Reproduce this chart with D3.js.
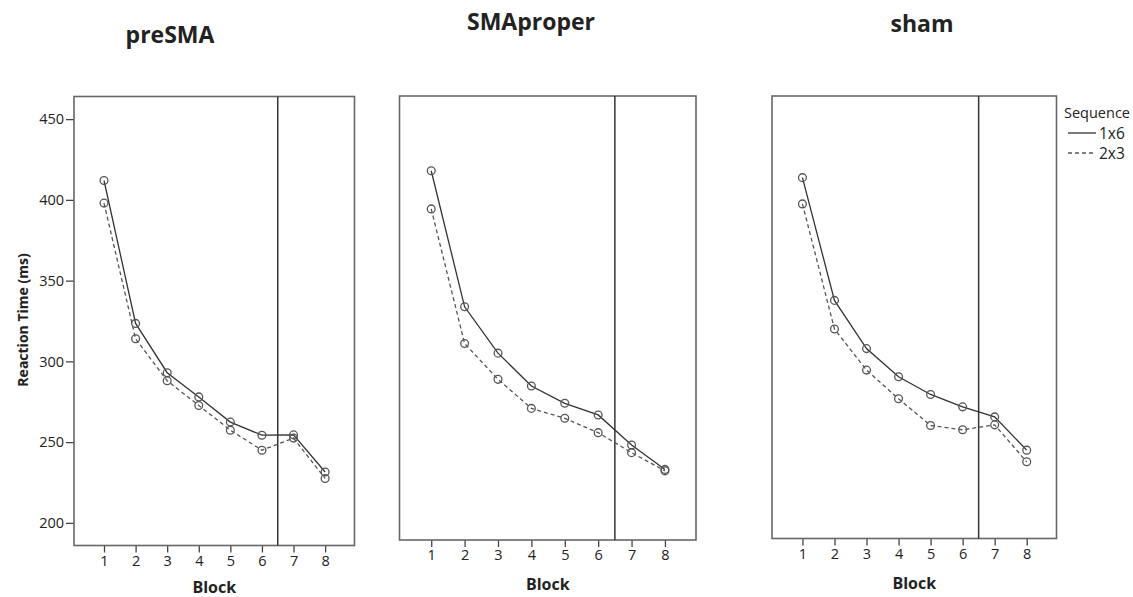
<!DOCTYPE html>
<html>
<head>
<meta charset="utf-8">
<script src="https://cdn.jsdelivr.net/npm/d3@7"></script>
<style>
  body { margin: 0; background: #fff; }
  text { font-family: "Open Sans", sans-serif; fill: #222; }
</style>
</head>
<body>
<div id="chart"></div>
<script>
// Data
const blocks = [1, 2, 3, 4, 5, 6, 7, 8];
const panelNames = ['preSMA', 'SMAproper', 'sham'];
const seriesNames = ['1x6', '2x3'];
const yTicks = [200, 250, 300, 350, 400, 450];

const presma1x6 = [412, 323.5, 293, 278, 262.4, 254.3, 254.5, 231.5];
const presma2x3 = [398, 314, 288, 272.7, 257.4, 245, 252.5, 227.5];
const smaproper1x6 = [417.2, 332, 303, 282.4, 271.6, 264.3, 245.5, 230.2];
const smaproper2x3 = [393.3, 309, 286.6, 268.4, 262.2, 253.2, 240.7, 229.3];
const sham1x6 = [412.7, 335.6, 305.3, 287.6, 276.5, 268.7, 262.4, 241.5];
const sham2x3 = [396.2, 317.6, 291.8, 273.8, 257, 254.3, 257.4, 234.2];

const panelSeries = [
    [presma1x6, presma2x3],
    [smaproper1x6, smaproper2x3],
    [sham1x6, sham2x3]
];

const width = 1133;
const height = 597;

// frame of each small panel, they are slightly different in the source
const layout = [
    { left: 74, top: 96.5, right: 354.5, bottom: 545.5, titleX: 170, titleY: 43 },
    { left: 399.5, top: 96, right: 696, bottom: 540, titleX: 531, titleY: 30 },
    { left: 772, top: 96, right: 1056.5, bottom: 538.5, titleX: 922, titleY: 32 }
];

const svg = d3.select('#chart').append('svg')
    .attr('width', width)
    .attr('height', height);

const dashes = ['none', '4,3'];

panelNames.forEach(function(name, i) {
    const L = layout[i];
    const x = d3.scaleLinear().domain([0.05, 8.93]).range([L.left, L.right]);
    const y = d3.scaleLinear().domain([186, 464]).range([L.bottom, L.top]);

    const g = svg.append('g');

    // title
    g.append('text')
        .attr('x', L.titleX)
        .attr('y', L.titleY)
        .attr('text-anchor', 'middle')
        .style('font-size', '23px')
        .style('font-weight', 'bold')
        .text(name);

    // x axis
    const xAxis = g.append('g')
        .attr('transform', `translate(0,${L.bottom})`)
        .call(d3.axisBottom(x).tickValues(blocks).tickFormat(d3.format('d')).tickSize(7).tickPadding(3).tickSizeOuter(0));
    xAxis.select('.domain').remove();
    xAxis.selectAll('line').attr('stroke', '#444').attr('stroke-width', 1.3);
    xAxis.selectAll('text').style('font-size', '14.5px').style('font-family', '"Open Sans", sans-serif').attr('fill', '#222');

    g.append('text')
        .attr('x', (L.left + L.right) / 2)
        .attr('y', Math.min(L.bottom + 50, 593))
        .attr('text-anchor', 'middle')
        .style('font-size', '16px')
        .style('font-weight', 'bold')
        .text('Block');

    // y axis only on the first panel
    if (i === 0) {
        const yAxis = g.append('g')
            .attr('transform', `translate(${L.left},0)`)
            .call(d3.axisLeft(y).tickValues(yTicks).tickSize(8).tickPadding(2).tickSizeOuter(0));
        yAxis.select('.domain').remove();
        yAxis.selectAll('line').attr('stroke', '#444').attr('stroke-width', 1.3);
        yAxis.selectAll('text').style('font-size', '14.5px').style('font-family', '"Open Sans", sans-serif').attr('fill', '#222');

        g.append('text')
            .attr('transform', 'translate(28,320) rotate(-90)')
            .attr('text-anchor', 'middle')
            .style('font-size', '14px')
            .style('font-weight', 'bold')
            .text('Reaction Time (ms)');
    }

    // frame
    g.append('rect')
        .attr('x', L.left)
        .attr('y', L.top)
        .attr('width', L.right - L.left)
        .attr('height', L.bottom - L.top)
        .attr('fill', 'none')
        .attr('stroke', '#666')
        .attr('stroke-width', 1.6);

    // reference line between block 6 and 7
    g.append('line')
        .attr('x1', x(6.5)).attr('x2', x(6.5))
        .attr('y1', L.top).attr('y2', L.bottom)
        .attr('stroke', '#333')
        .attr('stroke-width', 1.5);

    const line = d3.line()
        .x((d, j) => x(blocks[j]))
        .y(d => y(d));

    panelSeries[i].forEach(function(values, s) {
        g.append('path')
            .datum(values)
            .attr('d', line)
            .attr('fill', 'none')
            .attr('stroke', s === 0 ? '#333' : '#555')
            .attr('stroke-width', 1.3)
            .attr('stroke-dasharray', dashes[s]);

        g.selectAll('.pt' + s)
            .data(values)
            .enter().append('circle')
            .attr('class', 'pt' + s)
            .attr('cx', (d, j) => x(blocks[j]))
            .attr('cy', d => y(d))
            .attr('r', 3.9)
            .attr('fill', 'none')
            .attr('stroke', '#555')
            .attr('stroke-width', 1.3);
    });
});

// legend
const legend = svg.append('g');
legend.append('text')
    .attr('x', 1064)
    .attr('y', 118)
    .style('font-size', '14.5px')
    .text('Sequence');

seriesNames.forEach(function(name, s) {
    const yy = 133 + s * 20;
    legend.append('line')
        .attr('x1', 1068).attr('x2', 1096)
        .attr('y1', yy).attr('y2', yy)
        .attr('stroke', s === 0 ? '#333' : '#555')
        .attr('stroke-width', 1.3)
        .attr('stroke-dasharray', dashes[s]);
    legend.append('text')
        .attr('x', 1099)
        .attr('y', yy + 5.5)
        .style('font-size', '15.5px')
        .text(name);
});
</script>
</body>
</html>
